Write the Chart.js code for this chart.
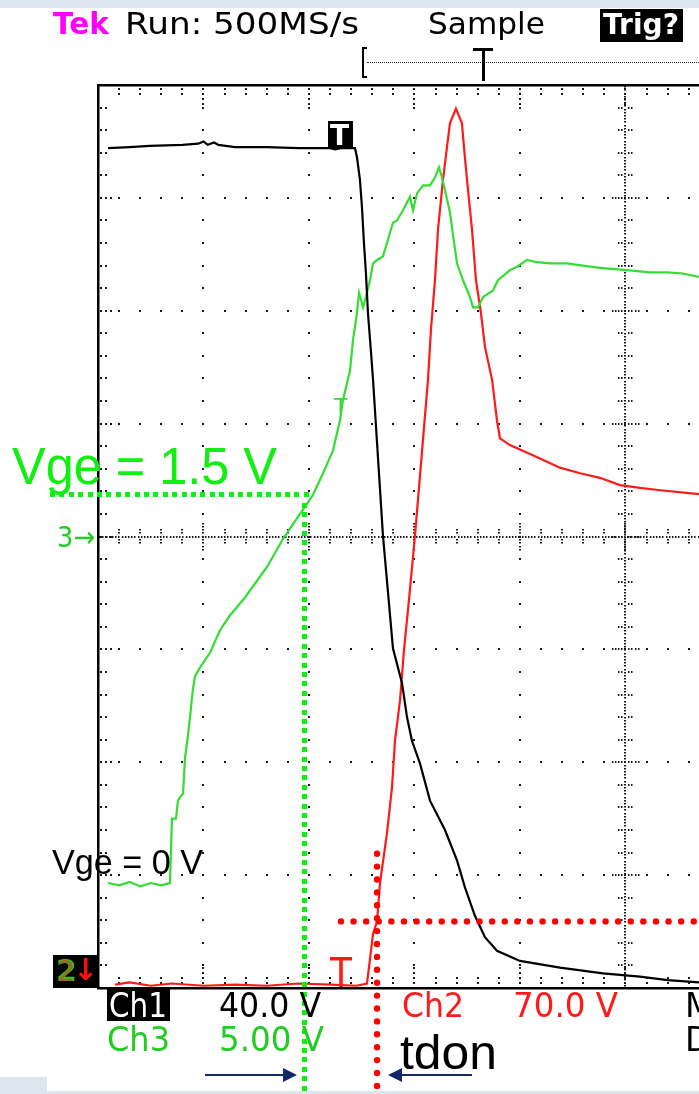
<!DOCTYPE html>
<html>
<head>
<meta charset="utf-8">
<script src="https://cdn.jsdelivr.net/npm/chart.js@4.4.1/dist/chart.umd.min.js"></script>
<style>
html,body{margin:0;padding:0;background:#fff;}
#wrap{position:relative;width:699px;height:1094px;overflow:hidden;background:#fff;}
.bg{position:absolute;background:#dde6ef;}
#c{position:absolute;left:0;top:0;}
.t{position:absolute;white-space:nowrap;line-height:1;transform-origin:0 0;font-family:"DejaVu Sans",sans-serif;}
.a{font-family:"Liberation Sans",Arial,sans-serif;}
.box{position:absolute;background:#000;}
</style>
</head>
<body>
<div id="wrap">
  <div class="bg" style="left:0;top:0;width:699px;height:8px"></div>
  <div class="bg" style="left:0;top:1077px;width:47px;height:17px"></div>
  <div class="bg" style="left:0;top:1091px;width:699px;height:3px"></div>
  <canvas id="c" width="699" height="1094"></canvas>

  <!-- header -->
  <div class="t" data-w="56" style="left:53px;top:9px;font-size:30px;color:#ff00ff;font-weight:bold">Tek</div>
  <div class="t" data-w="234" style="left:125px;top:9px;font-size:30px;color:#000">Run: 500MS/s</div>
  <div class="t" data-w="117" style="left:428px;top:9px;font-size:30px;color:#000">Sample</div>
  <div class="box" style="left:600px;top:9px;width:83px;height:33px"></div>
  <div class="t" data-w="76" style="left:603px;top:10px;font-size:29px;color:#fff;font-weight:bold">Trig?</div>
  <!-- record view bar -->
  <div style="position:absolute;left:362px;top:47px;width:3px;height:27px;border:2px solid #000;border-right:none"></div>
  <div style="position:absolute;left:367px;top:62px;width:332px;height:0;border-top:1px dotted #333"></div>
  <div class="box" style="left:473px;top:48px;width:20px;height:3px"></div>
  <div class="box" style="left:482px;top:48px;width:3px;height:33px"></div>

  <!-- ch1 trigger marker -->
  <div class="box" style="left:328px;top:121px;width:25px;height:28px"></div>
  <div class="t" style="left:330px;top:122px;font-size:28px;color:#fff;font-weight:bold">T</div>
  <!-- ch3 trigger marker -->
  <div class="t" style="left:334px;top:396px;font-size:22px;color:#33dd33">T</div>
  <!-- ch2 trigger marker -->
  <div class="t" data-w="22" style="left:330px;top:953px;font-size:40px;color:#ff1a1a">T</div>

  <!-- ground markers -->
  <div class="t" data-w="38" style="left:57px;top:523px;font-size:29px;color:#22cc22">3→</div>
  <div class="box" style="left:53px;top:955px;width:45px;height:33px"></div>
  <div class="t" style="left:56px;top:956px;font-size:30px;color:#22cc22;font-weight:bold">2</div>
  <div class="t" style="left:57px;top:957px;font-size:29px;color:#ff2020;opacity:0.6">2</div>
  <div class="t" style="left:73px;top:955px;font-size:30px;color:#ff1010;font-weight:bold">↓</div>

  <!-- annotations -->
  <div class="t a" data-w="265" style="left:12px;top:441px;font-size:51px;color:#11ee11">Vge = 1.5 V</div>
  <div class="t a" data-w="151" style="left:52px;top:844px;font-size:35px;color:#000">Vge = 0 V</div>
  <div class="t a" data-w="97" style="left:400px;top:1029px;font-size:48px;color:#000">tdon</div>

  <!-- bottom readouts -->
  <div class="box" style="left:107px;top:989px;width:63px;height:32px"></div>
  <div class="t" data-w="58" style="left:109px;top:989px;font-size:33px;color:#fff">Ch1</div>
  <div class="t" data-w="102" style="left:219px;top:989px;font-size:33px;color:#000">40.0 V</div>
  <div class="t" data-w="62" style="left:402px;top:989px;font-size:33px;color:#ff1a1a">Ch2</div>
  <div class="t" data-w="105" style="left:513px;top:989px;font-size:33px;color:#ff1a1a">70.0 V</div>
  <div class="t" style="left:685px;top:989px;font-size:33px;color:#000">M</div>
  <div class="t" data-w="63" style="left:107px;top:1023px;font-size:33px;color:#22cc22">Ch3</div>
  <div class="t" data-w="105" style="left:219px;top:1023px;font-size:33px;color:#22cc22">5.00 V</div>
  <div class="t" style="left:685px;top:1023px;font-size:33px;color:#000">D</div>
</div>

<script>
// ---- scope frame (divisions) ----
const hDivs = 10;            // horizontal divisions on the full screen
const vDivs = 8;             // vertical divisions
const visibleDivs = 5.697;   // part of the screen that is visible in the picture

// ---- Ch1 (black): time [div], level [div above bottom] ----
const ch1Time = [0.095,0.30,0.49,0.80,0.95,1.00,1.04,1.10,1.14,1.30,1.60,1.90,2.20,2.25,2.30,2.436,2.455,2.483,2.502,2.521,2.540,2.559,2.588,2.607,2.701,2.796,2.882,2.929,2.976,3.052,3.147,3.289,3.403,3.479,3.573,3.668,3.782,4.000,4.379,4.787,5.137,5.400,5.697];
const ch1Level = [7.44,7.45,7.46,7.47,7.48,7.50,7.47,7.49,7.47,7.45,7.45,7.44,7.44,7.43,7.44,7.44,7.36,7.16,6.92,6.60,6.33,5.98,5.63,5.39,4.01,3.01,2.70,2.40,2.19,1.99,1.66,1.40,1.13,0.89,0.64,0.45,0.33,0.24,0.18,0.13,0.10,0.07,0.05];

// ---- Ch2 (red) ----
const ch2Time = [0.16,0.30,0.50,0.70,1.00,1.30,1.60,1.90,2.20,2.45,2.550,2.607,2.645,2.673,2.739,2.787,2.815,2.863,2.900,2.948,3.005,3.128,3.156,3.194,3.223,3.270,3.308,3.336,3.393,3.450,3.469,3.498,3.545,3.583,3.630,3.668,3.735,3.782,3.810,3.905,4.000,4.190,4.379,4.570,4.758,4.948,5.137,5.330,5.697];
const ch2Level = [0.03,0.05,0.02,0.04,0.02,0.03,0.02,0.04,0.03,0.02,0.04,0.48,0.59,0.93,1.37,1.78,2.19,2.55,2.99,3.44,4.01,5.39,5.83,6.27,6.72,7.16,7.45,7.66,7.79,7.66,7.45,7.16,6.72,6.27,5.98,5.68,5.39,5.03,4.87,4.81,4.77,4.69,4.61,4.56,4.52,4.455,4.43,4.41,4.375];

// ---- Ch3 (green, gate voltage) ----
const ch3Time = [0.095,0.20,0.30,0.40,0.50,0.60,0.682,0.701,0.739,0.758,0.777,0.806,0.825,0.853,0.872,0.900,0.919,0.967,1.062,1.156,1.250,1.393,1.602,1.754,1.915,1.981,2.038,2.133,2.227,2.294,2.322,2.389,2.417,2.455,2.474,2.493,2.512,2.550,2.578,2.607,2.645,2.701,2.739,2.796,2.834,2.891,2.957,2.986,3.024,3.081,3.147,3.194,3.232,3.261,3.289,3.336,3.403,3.460,3.526,3.555,3.602,3.649,3.744,3.791,3.905,3.972,4.066,4.161,4.284,4.445,4.597,4.758,5.014,5.232,5.393,5.545,5.697];
const ch3Level = [0.93,0.91,0.94,0.90,0.93,0.91,0.93,1.50,1.50,1.66,1.69,1.72,2.04,2.24,2.40,2.65,2.76,2.84,2.97,3.17,3.30,3.46,3.73,3.98,4.20,4.29,4.37,4.56,4.76,5.03,5.21,5.47,5.74,5.98,6.16,6.10,6.03,6.16,6.27,6.42,6.45,6.48,6.60,6.78,6.80,6.89,7.01,6.89,7.04,7.11,7.11,7.18,7.27,7.18,7.07,6.87,6.42,6.27,6.12,6.03,6.03,6.12,6.18,6.27,6.36,6.39,6.45,6.43,6.42,6.42,6.40,6.38,6.36,6.34,6.34,6.33,6.30];

// ---- annotation markers (divisions) ----
const vgeThresholdLevel = 4.37;   // Vge = 1.5 V level
const tdStartTime = 1.962;        // Vge crosses 1.5 V
const tdEndTime = 2.645;          // current starts to rise
const currentLevel = 0.59;        // current threshold level
const greenLineFrom = -0.455;     // green dotted line start (time)
const redLineFrom = 2.303;        // red dotted line start (time)
const redLineTop = 1.19;          // red dotted vertical top (level)

const pts = (t, v) => t.map((x, i) => ({x, y: v[i]}));

const tekGrid = {
  id: 'tekGrid',
  beforeDatasetsDraw(chart) {
    const {ctx, scales: {x, y}} = chart;
    const X = v => x.getPixelForValue(v), Y = v => y.getPixelForValue(v);
    ctx.save();
    ctx.fillStyle = '#1a1a1a';
    const dot = (px, py, w = 2, h = 2) => ctx.fillRect(Math.round(px - w / 2), Math.round(py - h / 2), w, h);
    for (let i = 1; i < hDivs; i++) {
      if (i === 5) continue;
      for (let j = 1; j < vDivs * 5; j++) dot(X(i), Y(j / 5));
    }
    for (let j = 1; j < vDivs; j++) {
      if (j === 4) continue;
      for (let i = 1; i < hDivs * 5; i++) dot(X(i / 5), Y(j));
    }
    for (let i = 1; i < hDivs * 5; i++) {
      const n = i % 5 === 0 ? 4 : 2;
      for (let k = 0; k < n; k++) {
        dot(X(i / 5), Y(vDivs) + 4 + k * 5);
        dot(X(i / 5), Y(0) - 5 - k * 5);
      }
    }
    for (let j = 1; j < vDivs * 5; j++) {
      const n = j % 5 === 0 ? 3 : 2;
      for (let k = 0; k < n; k++) dot(X(0) + 3 + k * 5, Y(j / 5));
    }
    const cx = X(hDivs / 2);
    for (let py = Y(vDivs) + 2; py < Y(0); py += 3.2) dot(cx, py, 2, 1.5);
    for (let j = 1; j < vDivs * 5; j++) {
      const n = j % 5 === 0 ? 4 : 2;
      for (let k = -n; k <= n; k++) if (k !== 0) dot(cx + k * 3.3, Y(j / 5), 1.5, 2);
    }
    const cy = Y(vDivs / 2);
    for (let px = X(0) + 2; px < chart.width; px += 3.2) dot(px, cy, 1.5, 2);
    for (let i = 1; i < hDivs * 5; i++) {
      const n = i % 5 === 0 ? 4 : 2;
      for (let k = -n; k <= n; k++) if (k !== 0) dot(X(i / 5), cy + k * 3.3, 2, 1.5);
    }
    ctx.fillStyle = '#000';
    ctx.fillRect(X(0) - 1, Y(vDivs) - 1, chart.width, 2.5);
    ctx.fillRect(X(0) - 1, Y(vDivs) - 1, 2.5, Y(0) - Y(vDivs) + 2);
    ctx.fillRect(X(0) - 1, Y(0) - 1, chart.width, 2.5);
    ctx.restore();
  }
};

const annot = {
  id: 'annot',
  afterDraw(chart) {
    const {ctx, scales: {x, y}} = chart;
    const X = v => x.getPixelForValue(v), Y = v => y.getPixelForValue(v);
    ctx.save();
    ctx.fillStyle = '#11ee11';
    const gy = Y(vgeThresholdLevel), gx = X(tdStartTime);
    for (let px = X(greenLineFrom); px <= gx + 2; px += 9.4) ctx.fillRect(Math.round(px), Math.round(gy - 2.5), 5, 5);
    for (let py = gy + 8; py < chart.height + 5; py += 9.4) ctx.fillRect(Math.round(gx - 2.5), Math.round(py), 5, 5);
    ctx.fillStyle = '#ff0000';
    const ry = Y(currentLevel), rx = X(tdEndTime);
    for (let px = X(redLineFrom); px < chart.width + 5; px += 12.6) { ctx.beginPath(); ctx.arc(px, ry, 3.2, 0, Math.PI * 2); ctx.fill(); }
    for (let py = Y(redLineTop); py < chart.height + 5; py += 12.9) { ctx.beginPath(); ctx.arc(rx, py, 3.2, 0, Math.PI * 2); ctx.fill(); }
    ctx.strokeStyle = '#13286a'; ctx.fillStyle = '#13286a'; ctx.lineWidth = 2;
    const ay = 1075;
    ctx.beginPath(); ctx.moveTo(205, ay); ctx.lineTo(285, ay); ctx.stroke();
    ctx.beginPath(); ctx.moveTo(297, ay); ctx.lineTo(283, ay - 7); ctx.lineTo(283, ay + 7); ctx.closePath(); ctx.fill();
    ctx.beginPath(); ctx.moveTo(472, ay); ctx.lineTo(400, ay); ctx.stroke();
    ctx.beginPath(); ctx.moveTo(388, ay); ctx.lineTo(402, ay - 7); ctx.lineTo(402, ay + 7); ctx.closePath(); ctx.fill();
    ctx.restore();
  }
};

new Chart(document.getElementById('c'), {
  type: 'scatter',
  data: {
    datasets: [
      {label: 'Ch1', data: pts(ch1Time, ch1Level), borderColor: '#000000'},
      {label: 'Ch3', data: pts(ch3Time, ch3Level), borderColor: '#33dd33'},
      {label: 'Ch2', data: pts(ch2Time, ch2Level), borderColor: '#ff1a1a'}
    ].map(d => Object.assign(d, {showLine: true, pointRadius: 0, borderWidth: 2.2, tension: 0, fill: false, clip: false}))
  },
  options: {
    responsive: false,
    animation: false,
    devicePixelRatio: 1,
    layout: {padding: {left: 98, right: 0, top: 85, bottom: 106}},
    scales: {
      x: {type: 'linear', min: 0, max: visibleDivs, display: false},
      y: {type: 'linear', min: 0, max: vDivs, display: false}
    },
    plugins: {legend: {display: false}, tooltip: {enabled: false}}
  },
  plugins: [tekGrid, annot]
});

function fitTexts() {
  document.querySelectorAll('.t[data-w]').forEach(el => {
    el.style.transform = 'none';
    const w = el.getBoundingClientRect().width;
    const target = parseFloat(el.dataset.w);
    if (w > 0) el.style.transform = 'scaleX(' + (target / w).toFixed(4) + ')';
  });
}
fitTexts();
if (document.fonts && document.fonts.ready) document.fonts.ready.then(fitTexts);
</script>
</body>
</html>
